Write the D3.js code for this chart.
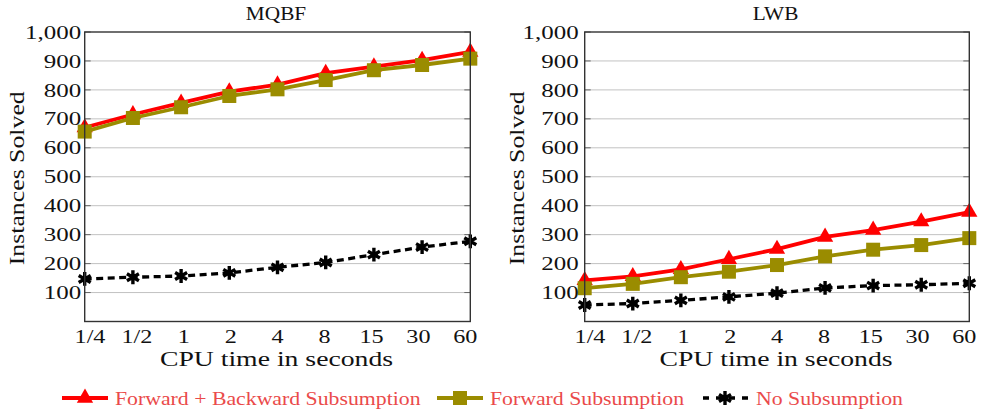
<!DOCTYPE html>
<html><head><meta charset="utf-8">
<script src="https://cdn.jsdelivr.net/npm/d3@7"></script>
<style>body{margin:0;background:#fff}svg{display:block}</style>
</head><body><svg id="c" width="986" height="416"></svg>
<script>
const categories = ["1/4","1/2","1","2","4","8","15","30","60"];
const yTicks = [100,200,300,400,500,600,700,800,900,1000];
const seriesNames = ["Forward + Backward Subsumption","Forward Subsumption","No Subsumption"];
const mqbfFB = [670, 715, 755, 794, 818, 858, 880, 903, 931];
const mqbfF  = [656, 703, 740, 779, 802, 834, 868, 886, 908];
const mqbfN  = [147, 153, 157, 168, 187, 204, 231, 257, 277];
const lwbFB  = [142, 156, 180, 215, 250, 292, 316, 345, 378];
const lwbF   = [115, 130, 153, 172, 195, 225, 248, 264, 288];
const lwbN   = [57, 62, 73, 85, 98, 116, 124, 127, 132];

const FONT = "\"Liberation Serif\", \"Times New Roman\", serif";
const panels = [
  {title:"MQBF", x0:84.7, x1:470.3, gap:3.5, data:[mqbfFB,mqbfF,mqbfN]},
  {title:"LWB", x0:584.7, x1:969.3, gap:6, data:[lwbFB,lwbF,lwbN]}
];
const styles = [
  {color:"#ff0000", dash:null, width:3.8, mark:"tri"},
  {color:"#9a8c00", dash:null, width:3.8, mark:"sq"},
  {color:"#000000", dash:"7,4.5", width:3.3, mark:"star"}
];
const svg = d3.select("#c");
const yTop = 32, yBot = 321.5;
const y = d3.scaleLinear().domain([0,1000]).range([yBot,yTop]);

function txt(g, x, yy, s, o){
  const sx = o.sx ?? 1.25;
  g.append("text")
    .attr("transform", `translate(${x},${yy})` + (o.rot ? ` rotate(${o.rot})` : "") + ` scale(${sx},1)`)
    .attr("text-anchor", o.anchor || "start")
    .attr("font-family", FONT).attr("font-size", o.size)
    .attr("fill", o.fill || "#111").text(s);
}

function drawMark(g, kind, color, cx, cy){
  if(kind==="tri"){
    g.append("path").attr("d", d3.symbol(d3.symbolTriangle, 115)()).attr("transform",`translate(${cx},${cy})`).attr("fill",color);
  } else if(kind==="sq"){
    g.append("rect").attr("x",cx-7).attr("y",cy-7).attr("width",14).attr("height",14).attr("fill",color);
  } else {
    g.append("path").attr("d", d3.symbol(d3.symbolAsterisk, 135)()).attr("transform",`translate(${cx},${cy})`).attr("fill","none").attr("stroke",color).attr("stroke-width",3.4);
  }
}

panels.forEach(p=>{
  const x = d3.scalePoint().domain(categories).range([p.x0,p.x1]);
  const xl = d3.scalePoint().domain(categories).range([p.x0+5.3,p.x1-5]);
  const g = svg.append("g");
  g.selectAll(".grid").data(yTicks.filter(t=>t<1000)).join("line")
    .attr("x1",p.x0).attr("x2",p.x1).attr("y1",d=>y(d)).attr("y2",d=>y(d))
    .attr("stroke","#c2c2c2").attr("stroke-width",1);
  g.selectAll(".tl").data(yTicks).join("line").attr("x1",p.x0).attr("x2",p.x0+6).attr("y1",d=>y(d)).attr("y2",d=>y(d)).attr("stroke","#666").attr("stroke-width",1);
  g.selectAll(".tr").data(yTicks).join("line").attr("x1",p.x1-6).attr("x2",p.x1).attr("y1",d=>y(d)).attr("y2",d=>y(d)).attr("stroke","#666").attr("stroke-width",1);
  p.data.forEach((vals,i)=>{
    const st = styles[i];
    const line = d3.line().x((d,j)=>x(categories[j])).y(d=>y(d));
    const path = g.append("path").datum(vals).attr("d",line).attr("fill","none")
      .attr("stroke",st.color).attr("stroke-width",st.width).attr("stroke-linejoin","round");
    if(st.dash) path.attr("stroke-dasharray",st.dash);
    vals.forEach((v,j)=>drawMark(g, st.mark, st.color, x(categories[j]), y(v)));
  });
  g.append("rect").attr("x",p.x0).attr("y",yTop).attr("width",p.x1-p.x0).attr("height",yBot-yTop)
    .attr("fill","none").attr("stroke","#333").attr("stroke-width",1.4);
  const fmt = d3.format(",");
  yTicks.forEach(t=>txt(g, p.x0-p.gap, y(t)+6.6, fmt(t), {size:19.5, sx:1.28, anchor:"end"}));
  categories.forEach(c=>txt(g, xl(c), 342.8, c, {size:19.5, sx:1.24, anchor:"middle"}));
  txt(g, (p.x0+p.x1)/2 - 1, 365.5, "CPU time in seconds", {size:21, sx:1.32, anchor:"middle"});
  txt(g, p.x0-61, (yTop+yBot)/2 + 1.5, "Instances Solved", {size:21.5, sx:1.2, anchor:"middle", rot:-90});
  txt(g, (p.x0+p.x1)/2 - 1.5, 19.5, p.title, {size:19, sx:1.12, anchor:"middle"});
});

// legend
const leg = svg.append("g");
const legItems = [{x0:62,tx:115},{x0:437,tx:490},{x0:702,tx:756}];
legItems.forEach((L,i)=>{
  const st = styles[i];
  const l = leg.append("line").attr("x1",L.x0).attr("x2",L.x0+46).attr("y1",398).attr("y2",398)
    .attr("stroke",st.color).attr("stroke-width",st.width);
  if(st.dash) l.attr("stroke-dasharray","6,7").attr("stroke-dashoffset",-1);
  drawMark(leg, st.mark, st.color, L.x0+23, 398);
  txt(leg, L.tx, 404.5, seriesNames[i], {size:18, sx:1.21, fill:"#ea4a4a"});
});
</script></body></html>
